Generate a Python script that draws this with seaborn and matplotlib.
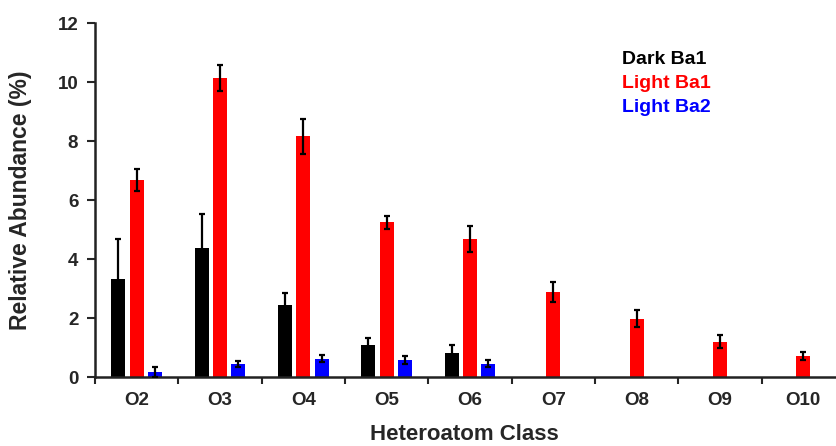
import numpy as np
import pandas as pd
import matplotlib
matplotlib.use("Agg")
import matplotlib.pyplot as plt
import seaborn as sns

classes = ["O2", "O3", "O4", "O5", "O6", "O7", "O8", "O9", "O10"]
samples = ["Dark Ba1", "Light Ba1", "Light Ba2"]
colors = ["#000000", "#ff0000", "#0000ff"]

dark_ba1 = [3.31, 4.37, 2.45, 1.10, 0.80]
dark_ba1_err = [1.37, 1.17, 0.40, 0.21, 0.30]
light_ba1 = [6.67, 10.15, 8.16, 5.24, 4.68, 2.88, 1.97, 1.20, 0.71]
light_ba1_err = [0.38, 0.44, 0.60, 0.22, 0.45, 0.33, 0.29, 0.21, 0.15]
light_ba2 = [0.16, 0.45, 0.62, 0.58, 0.45]
light_ba2_err = [0.17, 0.10, 0.12, 0.13, 0.12]

rows = []
for name, vals, errs in [("Dark Ba1", dark_ba1, dark_ba1_err),
                         ("Light Ba1", light_ba1, light_ba1_err),
                         ("Light Ba2", light_ba2, light_ba2_err)]:
    for c, v, e in zip(classes, vals, errs):
        rows.append({"Class": c, "Sample": name, "Abundance": v, "Err": e})
df = pd.DataFrame(rows)

sns.set_style("ticks")
plt.rcParams["font.family"] = ["Liberation Sans", "DejaVu Sans"]

fig = plt.figure(figsize=(8.36, 4.46), dpi=100)
ax = fig.add_axes([0.1136, 0.1547, 0.8972, 0.7937])

sns.barplot(data=df, x="Class", y="Abundance", hue="Sample",
            order=classes, hue_order=samples, palette=colors,
            width=0.66, gap=0.24, errorbar=None, legend=False,
            saturation=1, linewidth=0, ax=ax)

# error bars centred on each drawn bar
for name, cont in zip(samples, ax.containers):
    sub = df[df["Sample"] == name].set_index("Class").reindex(classes).dropna()
    for patch, (_, r) in zip(cont.patches, sub.iterrows()):
        xc = patch.get_x() + patch.get_width() / 2
        ax.errorbar(xc, r["Abundance"], yerr=r["Err"], fmt="none",
                    ecolor="black", elinewidth=1.6, capsize=2.2,
                    capthick=1.6, zorder=5)

ax.set_xlim(-0.5, len(classes) - 0.5)
ax.set_ylim(0, 12)
ax.set_yticks(np.arange(0, 13, 2))
ax.set_yticklabels([str(v) for v in range(0, 13, 2)], fontsize=13.5,
                   fontweight="bold")

# ticks at category boundaries, labels at centres
ax.set_xticks(np.arange(-0.5, len(classes) - 0.5 + 0.01, 1.0))
ax.set_xticklabels([])
ax.set_xticks(np.arange(len(classes)), minor=True)
ax.set_xticklabels(classes, minor=True, fontsize=13.5, fontweight="bold")
ax.tick_params(axis="x", which="minor", length=0, pad=11)
ax.tick_params(axis="x", which="major", length=5, width=1.5, direction="out")
ax.tick_params(axis="y", length=6, width=1.5, direction="out", pad=6)

for s in ["top", "right"]:
    ax.spines[s].set_visible(False)
for s in ["left", "bottom"]:
    ax.spines[s].set_linewidth(1.8)
    ax.spines[s].set_color("#222222")

ax.set_xlabel("Heteroatom Class", fontsize=16, fontweight="bold")
ax.set_ylabel("Relative Abundance (%)", fontsize=16.5, fontweight="bold")
ax.xaxis.set_label_coords(0.492, -0.134)
ax.yaxis.set_label_coords(-0.084, 0.5)

for i, (name, col) in enumerate(zip(samples, colors)):
    fig.text(0.744, 0.866 - i * 0.0530, name, color=col, fontsize=14,
             fontweight="bold", va="center", ha="left")

fig.savefig("out.png", dpi=100)
